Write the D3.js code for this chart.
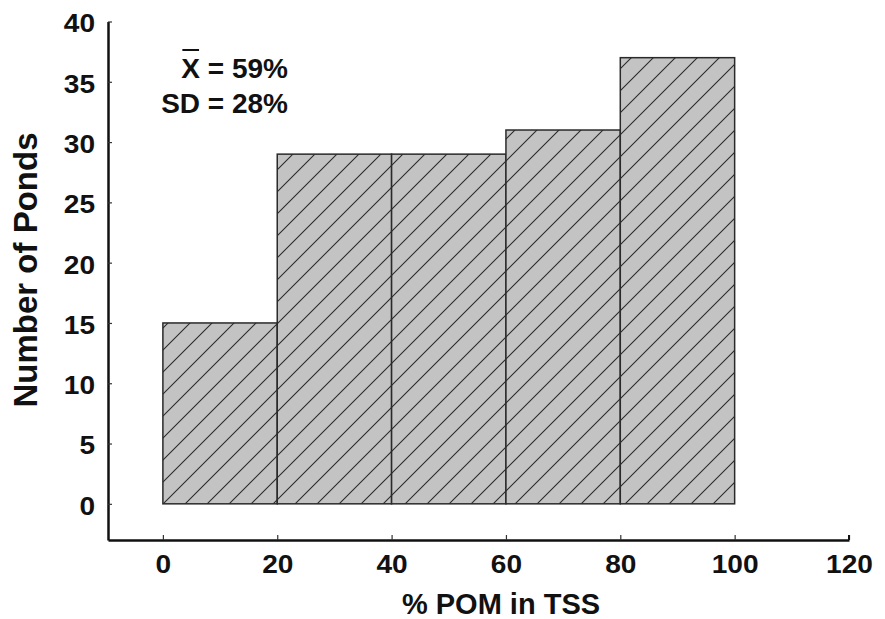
<!DOCTYPE html>
<html>
<head>
<meta charset="utf-8">
<script src="https://cdn.jsdelivr.net/npm/d3@7"></script>
<style>
  body { margin: 0; background: #fff; }
  text { font-family: "Liberation Sans", Arial, sans-serif; font-weight: bold; fill: #111; }
</style>
</head>
<body>
<svg id="chart" width="885" height="619"></svg>
<script>
const binStarts = [0, 20, 40, 60, 80];
const binWidth = 20;
const counts = [15, 29, 29, 31, 37];
const xTicks = [0, 20, 40, 60, 80, 100, 120];
const yTicks = [0, 5, 10, 15, 20, 25, 30, 35, 40];
const statLabels = ["X = 59%", "SD = 28%"];
const xTitle = "% POM in TSS";
const yTitle = "Number of Ponds";

const svg = d3.select("#chart");
const x = d3.scaleLinear().domain([-9.6, 120]).range([108, 849]);
const y = d3.scaleLinear().domain([-3, 40]).range([540, 21.5]);
const FONT = "Liberation Sans, Arial, sans-serif";

// hatch pattern
const defs = svg.append("defs");
const pat = defs.append("pattern")
  .attr("id", "hatch").attr("patternUnits", "userSpaceOnUse")
  .attr("width", 22).attr("height", 22)
  .attr("patternTransform", "translate(163,504)");
pat.append("rect").attr("width", 22).attr("height", 22).attr("fill", "#c3c3c3");
pat.append("path").attr("d", "M-2,24 L24,-2 M-11,11 L11,-11 M11,33 L33,11")
  .attr("stroke", "#2a2a2a").attr("stroke-width", 1.1);

// bars
svg.append("g").selectAll("rect").data(binStarts).join("rect")
  .attr("x", d => x(d))
  .attr("y", (d, i) => y(counts[i]))
  .attr("width", d => x(d + binWidth) - x(d))
  .attr("height", (d, i) => y(0) - y(counts[i]))
  .attr("fill", "url(#hatch)")
  .attr("stroke", "#2a2a2a").attr("stroke-width", 1.5);

// y axis
const yAxis = d3.axisRight(y).tickValues(yTicks).tickSize(4).tickSizeOuter(0);
const gy = svg.append("g").attr("transform", `translate(${x.range()[0]},0)`).call(yAxis);
gy.select(".domain").attr("stroke", "#111").attr("stroke-width", 2.5);
gy.selectAll(".tick line").attr("stroke", "#333").attr("stroke-width", 1.2);
gy.selectAll(".tick text").attr("x", 0).attr("text-anchor", "end")
  .attr("transform", "translate(-13,1) scale(1.08,1)")
  .attr("dy", "0.36em").style("font-size", "26px").style("font-family", FONT).style("font-weight", "bold").attr("fill", "#111");

// x axis
const xAxis = d3.axisTop(x).tickValues(xTicks).tickSize(5).tickSizeOuter(0);
const gx = svg.append("g").attr("transform", `translate(0,${y.range()[0]})`).call(xAxis);
gx.select(".domain").attr("stroke", "#111").attr("stroke-width", 2.5);
gx.selectAll(".tick line").attr("stroke", "#333").attr("stroke-width", 1.2);
gx.selectAll(".tick text").attr("y", 33).attr("dy", 0).attr("text-anchor", "middle")
  .attr("transform", "scale(1.08,1)")
  .style("font-size", "26px").style("font-family", FONT).style("font-weight", "bold").attr("fill", "#111");
// small end mark on x axis at 120
gx.append("line").attr("x1", x(120)).attr("x2", x(120)).attr("y1", 0).attr("y2", -5)
  .attr("stroke", "#111").attr("stroke-width", 2);

// axis titles
svg.append("text").attr("x", 501).attr("y", 614).attr("text-anchor", "middle")
  .style("font-size", "29px").text(xTitle);
svg.append("text").attr("transform", "translate(37,270) rotate(-90)").attr("text-anchor", "middle")
  .style("font-size", "33px").text(yTitle);

// stats annotation
const ann = svg.append("g");
ann.selectAll("text").data(statLabels).join("text")
  .attr("x", 288).attr("y", (d, i) => 78 + i * 35)
  .attr("text-anchor", "end").style("font-size", "28px").text(d => d);
// overbar over X
const firstText = ann.select("text").node();
const ext = firstText.getExtentOfChar(0);
ann.append("line").attr("x1", ext.x + 1).attr("x2", ext.x + ext.width - 1)
  .attr("y1", 50).attr("y2", 50).attr("stroke", "#111").attr("stroke-width", 2);
</script>
</body>
</html>
